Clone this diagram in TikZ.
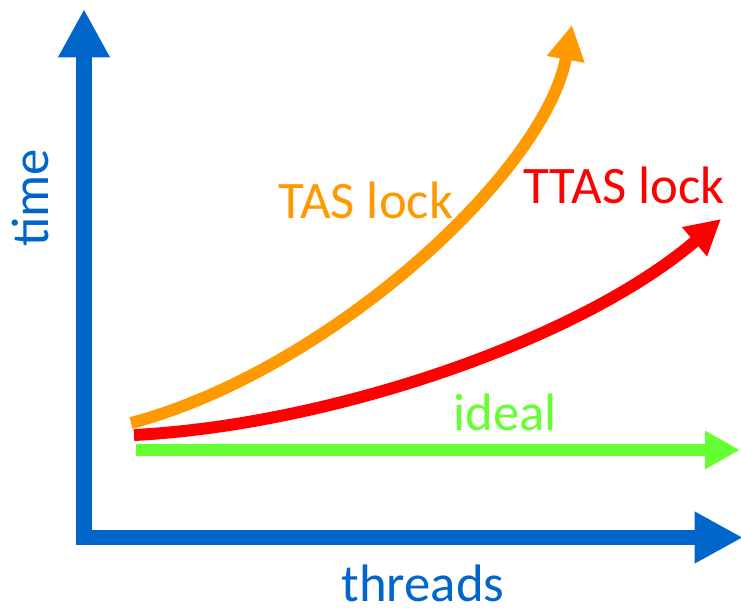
\documentclass[tikz,border=0pt]{standalone}
\usepackage{fontspec}
\setmainfont{Carlito}
\usetikzlibrary{arrows.meta}
\definecolor{axisblue}{RGB}{0,102,204}
\definecolor{tasorange}{RGB}{255,153,0}
\definecolor{ttasred}{RGB}{255,0,0}
\definecolor{idealgreen}{RGB}{102,255,51}

\begin{document}
\begin{tikzpicture}[x=0.03cm, y=-0.03cm,
    axis/.style={axisblue, line width=13.6pt, -{Triangle[length=1.45cm, width=1.45cm]}},
    curve/.style={line width=10.2pt, -{Triangle[length=1.05cm, width=1.08cm]}},
    lbl/.style={font=\fontsize{45}{54}\selectfont, inner sep=0pt, anchor=base}]
        \useasboundingbox (0,0) rectangle (741,611);
        % Define points
        \coordinate (Corner) at (84,545);
        \coordinate (YEnd) at (84,9);
        \coordinate (XStart) at (76,537.5);
        \coordinate (XEnd) at (743,537.5);
        \coordinate (TasStart) at (131,423);
        \coordinate (TasEnd) at (572,25);
        \coordinate (TtasStart) at (134,435);
        \coordinate (TtasEnd) at (721,219);
        \coordinate (IdealStart) at (136,450);
        \coordinate (IdealEnd) at (740,450);

        % Axes
        \draw[axis] (Corner) -- (YEnd);
        \draw[axis] (XStart) -- (XEnd);

        % Curves
        \draw[curve, tasorange] (TasStart) .. controls (330,370) and (545,172) .. (TasEnd);
        \draw[curve, ttasred] (TtasStart) .. controls (330,425) and (580,340) .. (TtasEnd);
        \draw[curve, idealgreen] (IdealStart) -- (IdealEnd);

        % Labels
        \node[lbl, axisblue, rotate=90] (Time) at (48,198) {time};
        \node[lbl, axisblue] (Threads) at (423,601) {threads};
        \node[lbl, tasorange] (Tas) at (366,218) {TAS lock};
        \node[lbl, ttasred] (Ttas) at (624,203) {TTAS lock};
        \node[lbl, idealgreen] (Ideal) at (505,430) {ideal};
    \end{tikzpicture}
\end{document}
